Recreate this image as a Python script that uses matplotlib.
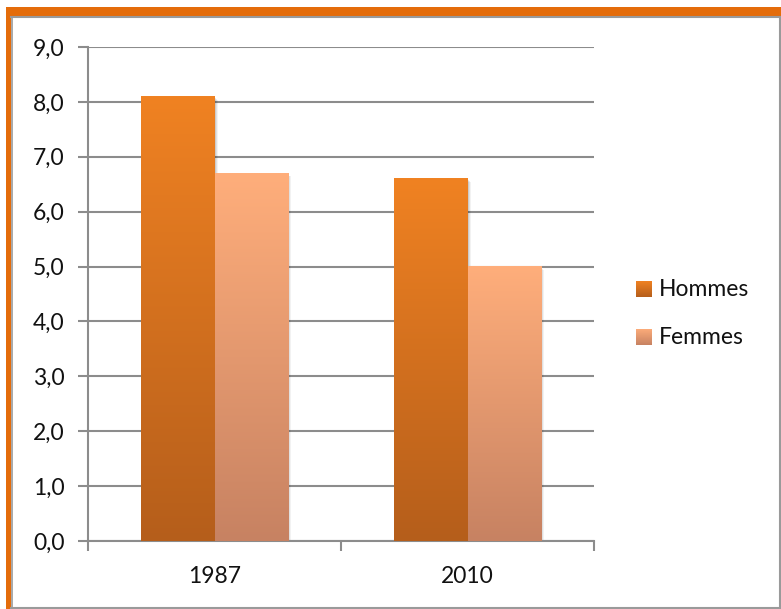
import numpy as np
import matplotlib
matplotlib.use("Agg")
import matplotlib.pyplot as plt
from matplotlib.patches import Rectangle
from matplotlib.lines import Line2D
from matplotlib.colors import LinearSegmentedColormap
import matplotlib.transforms as mtransforms

categories = ["1987", "2010"]
series_names = ["Hommes", "Femmes"]
hommes = [8.1, 6.6]
femmes = [6.7, 5.0]
yticks = [0, 1, 2, 3, 4, 5, 6, 7, 8, 9]
ytick_labels = ["0,0", "1,0", "2,0", "3,0", "4,0", "5,0", "6,0", "7,0", "8,0", "9,0"]

plt.rcParams['font.family'] = ['Lato', 'DejaVu Sans']
FS = 16.5

W, H = 781, 609
fig = plt.figure(figsize=(W / 100, H / 100), dpi=100)

def fx(px):
    return px / W

def fy(py):
    return 1 - py / H

# frame
fig.add_artist(Line2D([fx(11), fx(780)], [fy(16.5), fy(16.5)], color="#9a9a9a", lw=1.5))
fig.add_artist(Line2D([fx(780), fx(780)], [fy(16.5), fy(607.5)], color="#9a9a9a", lw=1.5))
fig.add_artist(Line2D([fx(11), fx(780)], [fy(607.5), fy(607.5)], color="#9a9a9a", lw=1.5))
fig.add_artist(Line2D([fx(11.5), fx(11.5)], [fy(16.5), fy(607.5)], color="#9a9a9a", lw=1.2))
fig.add_artist(Rectangle((fx(6), fy(16)), fx(781) - fx(6), 9 / H, color="#E46C0A", lw=0))
fig.add_artist(Rectangle((fx(6), 0), 5 / W, fy(7), color="#E46C0A", lw=0))

ax = fig.add_axes([fx(88), fy(541), fx(594) - fx(88), (541 - 47) / H])
ax.set_xlim(0, 2)
ax.set_ylim(0, 9)

ax.set_yticks(yticks)
ax.set_yticklabels(ytick_labels, fontsize=FS)
ax.yaxis.grid(True, color="#8c8c8c", lw=1.5)
ax.set_axisbelow(True)
ax.tick_params(axis="y", length=7, width=1.5, color="#8c8c8c", pad=10, labelcolor="#111111")
ax.set_xticks([0, 1, 2])
ax.set_xticklabels([])
ax.set_xticks([0.5, 1.5], minor=True)
ax.set_xticklabels(categories, minor=True, fontsize=FS)
ax.tick_params(axis="x", which="major", length=7, width=1.5, color="#8c8c8c", direction="out")
ax.tick_params(axis="x", which="minor", length=0, pad=18, labelcolor="#111111")
for s in ["top", "right"]:
    ax.spines[s].set_visible(False)
for s in ["left", "bottom"]:
    ax.spines[s].set_color("#8c8c8c")
    ax.spines[s].set_linewidth(1.5)

cmap_h = LinearSegmentedColormap.from_list("h", ["#B55E1B", "#F08222"])
cmap_f = LinearSegmentedColormap.from_list("f", ["#C78262", "#FFAE7B"])

bw = 0.29
x = np.arange(len(categories)) + 0.5
grad = np.linspace(0, 1, 256).reshape(-1, 1)

def draw(xpos, vals, cmap, name):
    bars = ax.bar(xpos, vals, width=bw, color="none", edgecolor="none", label=name, zorder=3)
    for b in bars:
        x0, w, h = b.get_x(), b.get_width(), b.get_height()
        for k, a in [(4, 0.05), (3, 0.07), (2, 0.09), (1, 0.11)]:
            off = mtransforms.offset_copy(ax.transData, fig=fig, x=k * 0.8, y=-k * 0.8, units="dots")
            ax.add_patch(Rectangle((x0, 0), w, h, color="black", alpha=a, lw=0, transform=off, zorder=2))
        ax.imshow(grad, extent=(x0, x0 + w, 0, h), origin="lower",
                  cmap=cmap, aspect="auto", zorder=3, interpolation="bilinear")
    return bars

draw(x - bw / 2, hommes, cmap_h, "Hommes")
draw(x + bw / 2, femmes, cmap_f, "Femmes")
ax.set_xlim(0, 2)
ax.set_ylim(0, 9)

# legend
def legend_entry(py, cmap, label):
    lax = fig.add_axes([fx(636), fy(py + 8), 16 / W, 16 / H])
    lax.imshow(grad, origin="lower", cmap=cmap, aspect="auto", extent=(0, 1, 0, 1))
    lax.set_axis_off()
    fig.text(fx(659), fy(py), label, fontsize=FS, va="center", ha="left", color="#111111")

legend_entry(289, cmap_h, series_names[0])
legend_entry(337, cmap_f, series_names[1])

fig.savefig("out.png", dpi=100)
